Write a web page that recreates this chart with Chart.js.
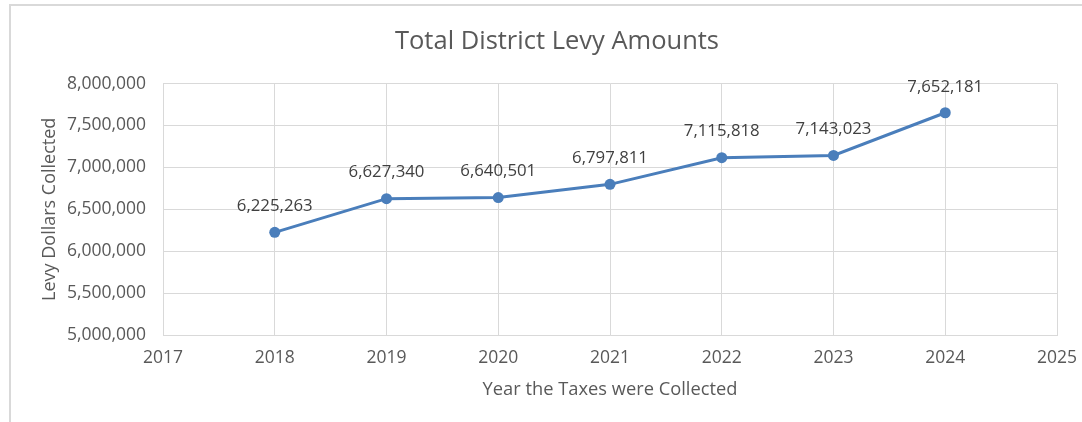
<!DOCTYPE html>
<html>
<head>
<meta charset="utf-8">
<script src="https://cdn.jsdelivr.net/npm/chart.js@4/dist/chart.umd.min.js"></script>
<style>
  html, body { margin: 0; padding: 0; background: #fff; }
  body { width: 1082px; height: 422px; overflow: hidden; position: relative; }
  .frame {
    position: absolute; left: 9px; top: 4px;
    width: 1100px; height: 440px;
    border-left: 2px solid #d9d9d9; border-top: 2px solid #d9d9d9;
  }
  .frame canvas { position: absolute; left: 0; top: 0; }
</style>
</head>
<body>
<div class="frame">
  <canvas id="levyChart" width="1094" height="416"></canvas>
</div>
<script>
// levy totals by collection year
let years = [2018, 2019, 2020, 2021, 2022, 2023, 2024],
    levyAmounts = [6225263, 6627340, 6640501, 6797811, 7115818, 7143023, 7652181],
    yearTicks = [2017, 2018, 2019, 2020, 2021, 2022, 2023, 2024, 2025],
    levyTicks = [5000000, 5500000, 6000000, 6500000, 7000000, 7500000, 8000000];

const textColor = '#595959',
      gridColor = '#d9d9d9',
      lineColor = '#4a7ebb',
      fontFamily = "'Open Sans', sans-serif";

function formatNumber(v) {
    return v.toLocaleString('en-US');
}

// writes the amount above each point
const pointLabels = {
    id: 'pointLabels',
    afterDatasetsDraw(chart) {
        const ctx = chart.ctx;
        const meta = chart.getDatasetMeta(0);
        ctx.save();
        ctx.font = '16.8px ' + fontFamily;
        ctx.fillStyle = '#404040';
        ctx.textAlign = 'center';
        ctx.textBaseline = 'middle';
        meta.data.forEach(function(point, i) {
            ctx.fillText(formatNumber(levyAmounts[i]), point.x, point.y - 26);
        });
        ctx.restore();
    }
};

const chartCanvas = document.querySelector('#levyChart').getContext('2d');

// left padding keeps the title centred on the whole frame,
// the y axis title is pulled back into that padding
new Chart(chartCanvas, {
    type: 'line',
    data: {
        datasets: [{
            label: 'Total District Levy',
            data: years.map((y, i) => ({ x: y, y: levyAmounts[i] })),
            borderColor: lineColor,
            backgroundColor: lineColor,
            borderWidth: 3,
            pointRadius: 5.5,
            pointBorderWidth: 0,
            tension: 0,
            fill: false
        }]
    },
    options: {
        responsive: false,
        animation: false,
        layout: { padding: { left: 46, right: 48, top: 0, bottom: 0 } },
        plugins: {
            legend: { display: false },
            tooltip: { enabled: false },
            title: {
                display: true,
                text: 'Total District Levy Amounts',
                color: textColor,
                font: { family: fontFamily, size: 25.5, weight: 'normal' },
                padding: { top: 20, bottom: 27 }
            }
        },
        scales: {
            x: {
                type: 'linear',
                min: yearTicks[0],
                max: yearTicks[yearTicks.length - 1],
                afterBuildTicks: function(scale) {
                    scale.ticks = yearTicks.map(v => ({ value: v }));
                },
                ticks: {
                    color: textColor,
                    font: { family: fontFamily, size: 17.5 },
                    padding: 13,
                    maxRotation: 0,
                    callback: v => String(v)
                },
                grid: { color: gridColor, drawTicks: false },
                border: { color: gridColor },
                title: {
                    display: true,
                    text: 'Year the Taxes were Collected',
                    color: textColor,
                    font: { family: fontFamily, size: 18.3 },
                    padding: { top: 0, bottom: 21 }
                },
                afterFit: function(scale) { scale.height = 87; }
            },
            y: {
                min: levyTicks[0],
                max: levyTicks[levyTicks.length - 1],
                afterBuildTicks: function(scale) {
                    scale.ticks = levyTicks.map(v => ({ value: v }));
                },
                ticks: {
                    color: textColor,
                    font: { family: fontFamily, size: 17.5 },
                    padding: 17,
                    callback: v => formatNumber(v)
                },
                grid: { color: gridColor, drawTicks: false },
                border: { color: gridColor },
                title: {
                    display: true,
                    text: 'Levy Dollars Collected',
                    color: textColor,
                    font: { family: fontFamily, size: 18 },
                    padding: { top: -18, bottom: 0 }
                },
                afterFit: function(scale) { scale.width = 106; }
            }
        }
    },
    plugins: [pointLabels]
});
</script>
</body>
</html>
